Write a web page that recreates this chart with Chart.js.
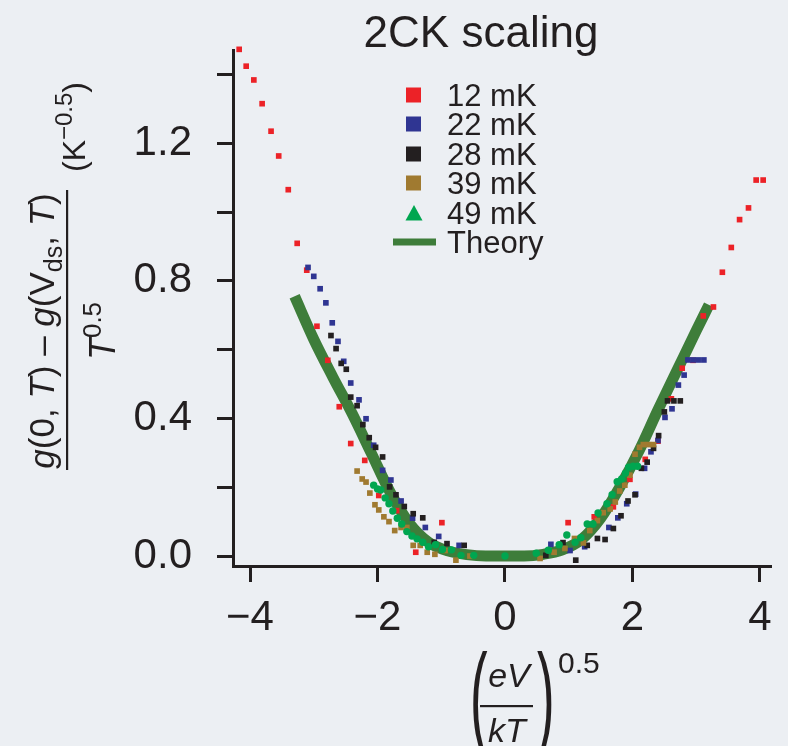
<!DOCTYPE html>
<html>
<head>
<meta charset="utf-8">
<script src="https://cdn.jsdelivr.net/npm/chart.js@4.4.1/dist/chart.umd.min.js"></script>
<style>
  html, body { margin: 0; padding: 0; background: #eceff3; }
  #wrap { width: 788px; height: 746px; }
</style>
</head>
<body>
<div id="wrap"><canvas id="myChart" width="788" height="746"></canvas></div>
<script>
// data: x = (eV/kT)^0.5, y = scaled conductance
var x12 = [-4.17, -4.06, -3.94, -3.81, -3.67, -3.55, -3.40, -3.26, -3.11, -2.95, -2.78, -2.60, -2.42, -2.20, -1.98, -1.70, -1.40, -0.99, 0.99, 1.40, 1.70, 1.96, 2.20, 2.40, 2.61, 2.78, 2.95, 3.11, 3.27, 3.41, 3.55, 3.68, 3.82, 3.94, 4.05];
var y12 = [1.473, 1.424, 1.384, 1.315, 1.235, 1.163, 1.065, 0.909, 0.831, 0.668, 0.569, 0.434, 0.327, 0.278, 0.176, 0.132, 0.011, 0.097, 0.097, 0.114, 0.143, 0.223, 0.281, 0.334, 0.457, 0.546, 0.569, 0.698, 0.724, 0.825, 0.897, 0.978, 1.012, 1.093, 1.093];

var x22 = [-3.09, -3.00, -2.90, -2.81, -2.71, -2.62, -2.53, -2.42, -2.29, -2.18, -2.06, -1.92, -1.79, -1.63, -1.45, -1.25, -1.04, -0.72, 0.72, 1.02, 1.25, 1.63, 1.77, 1.91, 2.05, 2.19, 2.29, 2.40, 2.51, 2.62, 2.72, 2.81, 2.87, 2.95, 3.03, 3.12];
var y22 = [0.839, 0.813, 0.777, 0.736, 0.678, 0.624, 0.566, 0.503, 0.454, 0.399, 0.322, 0.249, 0.221, 0.160, 0.110, 0.083, 0.057, 0.031, 0.034, 0.016, 0.027, 0.083, 0.111, 0.152, 0.180, 0.255, 0.303, 0.336, 0.403, 0.428, 0.497, 0.526, 0.570, 0.570, 0.570, 0.570];

var x28 = [-2.73, -2.65, -2.57, -2.49, -2.42, -2.32, -2.23, -2.13, -2.03, -1.92, -1.81, -1.71, -1.58, -1.44, -1.29, -1.11, -0.91, -0.64, 0.64, 0.91, 1.11, 1.29, 1.45, 1.57, 1.70, 1.82, 1.93, 2.04, 2.14, 2.23, 2.33, 2.41, 2.50, 2.55, 2.65, 2.75];
var y28 = [0.641, 0.603, 0.560, 0.543, 0.462, 0.437, 0.382, 0.344, 0.316, 0.288, 0.201, 0.178, 0.144, 0.123, 0.111, 0.040, 0.036, 0.031, 0.002, 0.039, -0.012, 0.031, 0.051, 0.048, 0.080, 0.117, 0.160, 0.178, 0.255, 0.273, 0.313, 0.350, 0.419, 0.451, 0.451, 0.451];

var x39 = [-2.32, -2.24, -2.18, -2.12, -2.04, -1.98, -1.90, -1.82, -1.73, -1.63, -1.54, -1.44, -1.33, -1.22, -1.10, -0.94, -0.77, -0.55, 0.55, 0.77, 0.94, 1.09, 1.23, 1.33, 1.45, 1.54, 1.65, 1.73, 1.80, 1.88, 1.96, 2.04, 2.11, 2.17, 2.25, 2.33];
var y39 = [0.247, 0.224, 0.215, 0.183, 0.149, 0.134, 0.114, 0.100, 0.074, 0.083, 0.083, 0.031, 0.031, 0.011, 0.005, 0.016, -0.012, 0.000, -0.007, 0.011, 0.022, 0.051, 0.038, 0.074, 0.103, 0.126, 0.137, 0.157, 0.189, 0.206, 0.235, 0.296, 0.316, 0.324, 0.324, 0.324];

var x49 = [-2.06, -2.00, -1.95, -1.88, -1.82, -1.76, -1.69, -1.62, -1.54, -1.46, -1.38, -1.29, -1.20, -1.09, -0.98, -0.84, -0.69, -0.49, 0.00, 0.49, 0.68, 0.85, 0.97, 1.10, 1.19, 1.29, 1.38, 1.46, 1.60, 1.68, 1.76, 1.83, 1.89, 1.94, 2.01, 2.08];
var y49 = [0.206, 0.195, 0.192, 0.169, 0.152, 0.131, 0.110, 0.093, 0.071, 0.058, 0.050, 0.040, 0.027, 0.033, 0.019, 0.018, 0.002, 0.002, 0.000, 0.008, 0.017, 0.033, 0.061, 0.040, 0.053, 0.093, 0.093, 0.125, 0.152, 0.178, 0.216, 0.224, 0.241, 0.258, 0.261, 0.261];

var theoryX = [-3.3, -3.0, -2.7, -2.4, -2.1, -1.8, -1.5, -1.2, -0.9, -0.6, -0.3, 0, 0.3, 0.6, 0.9, 1.2, 1.5, 1.8, 2.1, 2.4, 2.7, 3.0, 3.2];
var theoryY = [0.755, 0.63, 0.52, 0.415, 0.30, 0.185, 0.095, 0.04, 0.015, 0.004, 0.0, 0.0, 0.0, 0.005, 0.018, 0.048, 0.11, 0.20, 0.305, 0.425, 0.54, 0.655, 0.73];

var xTickValues = [-4, -2, 0, 2, 4];
var xTickLabels = ['\u22124', '\u22122', '0', '2', '4'];
var yTickValues = [0, 0.2, 0.4, 0.6, 0.8, 1.0, 1.2, 1.4];
var yTickLabels = ['0.0', '', '0.4', '', '0.8', '', '1.2', ''];

var FONT = '"Liberation Sans", Arial, Helvetica, sans-serif';
var INK = '#231f20';

function pairs(xs, ys) {
  return xs.map(function(x, i) { return { x: x, y: ys[i] }; });
}

function squares(label, xs, ys, color, order) {
  return {
    label: label,
    data: pairs(xs, ys),
    pointStyle: 'rect',
    pointRadius: 4,
    pointBorderWidth: 0,
    backgroundColor: color,
    borderColor: color,
    showLine: false,
    clip: false,
    order: order
  };
}

// titles, axis labels and the legend box
var textPlugin = {
  id: 'texts',
  afterDraw: function(chart) {
    var ctx = chart.ctx;
    ctx.save();
    ctx.fillStyle = INK;
    ctx.textBaseline = 'alphabetic';

    // title
    ctx.font = '44px ' + FONT;
    ctx.textAlign = 'center';
    ctx.fillText('2CK scaling', 481, 47);

    // legend
    ctx.textAlign = 'left';
    ctx.font = '31px ' + FONT;
    var rows = [95, 124, 154, 183, 213, 242];
    var ds = chart.data.datasets;
    var names = ['12 mK', '22 mK', '28 mK', '39 mK', '49 mK', 'Theory'];
    for (var i = 0; i < names.length; i++) {
      var cy = rows[i];
      var col = ds[i].backgroundColor;
      if (i < 4) {
        ctx.fillStyle = col;
        ctx.fillRect(406, cy - 7.5, 15, 15);
      } else if (i === 4) {
        ctx.fillStyle = col;
        ctx.beginPath();
        ctx.moveTo(414, cy - 8);
        ctx.lineTo(422.5, cy + 7.5);
        ctx.lineTo(405.5, cy + 7.5);
        ctx.closePath();
        ctx.fill();
      } else {
        ctx.fillStyle = ds[i].borderColor;
        ctx.fillRect(393, cy - 3.5, 43, 7);
      }
      ctx.fillStyle = INK;
      ctx.fillText(names[i], 447, cy + 10.5);
    }

    // x axis title: (eV/kT)^0.5
    ctx.textAlign = 'center';
    ctx.font = 'italic 34px ' + FONT;
    ctx.fillText('eV', 509, 687);
    ctx.fillText('kT', 507, 742);
    ctx.fillRect(480, 705, 53, 2.2);
    ctx.textAlign = 'left';
    ctx.font = '30px ' + FONT;
    ctx.fillText('0.5', 558, 673);
    ctx.font = '48px ' + FONT;
    ctx.save();
    ctx.translate(470, 734);
    ctx.scale(1.1, 2.4);
    ctx.fillText('(', 0, 0);
    ctx.restore();
    ctx.save();
    ctx.translate(537, 734);
    ctx.scale(1.1, 2.4);
    ctx.fillText(')', 0, 0);
    ctx.restore();

    // y axis title, rotated
    ctx.save();
    ctx.rotate(-Math.PI / 2);
    drawRun(ctx, [
      { t: 'g', f: 'italic 35px ' },
      { t: '(0, ', f: '35px ' },
      { t: 'T', f: 'italic 35px ' },
      { t: ') \u2013 ', f: '35px ' },
      { t: 'g', f: 'italic 35px ' },
      { t: '(V', f: '35px ' },
      { t: 'ds', f: '25px ', dv: 8 },
      { t: ', ', f: '35px ' },
      { t: 'T', f: 'italic 35px ' },
      { t: ')', f: '35px ' }
    ], -331, 54);
    drawRun(ctx, [
      { t: 'T', f: 'italic 36px ' },
      { t: '0.5', f: '26px ', dv: -14 }
    ], -331, 115);
    drawRun(ctx, [
      { t: '(K', f: '32px ' },
      { t: '\u22120.5', f: '24px ', dv: -13 },
      { t: ')', f: '32px ' }
    ], -127, 85);
    ctx.restore();
    ctx.fillRect(66, 190, 2.2, 280);

    ctx.restore();
  }
};

// draws pieces of text one after another, centred on u
function drawRun(ctx, parts, u, v) {
  var total = 0;
  parts.forEach(function(p) {
    ctx.font = p.f + FONT;
    p.w = ctx.measureText(p.t).width;
    total += p.w;
  });
  var pos = u - total / 2;
  ctx.textAlign = 'left';
  parts.forEach(function(p) {
    ctx.font = p.f + FONT;
    ctx.fillText(p.t, pos, v + (p.dv || 0));
    pos += p.w;
  });
}

var ctx = document.getElementById('myChart').getContext('2d');
var chart = new Chart(ctx, {
  type: 'scatter',
  data: {
    datasets: [
      squares('12 mK', x12, y12, '#ec2227', 5),
      squares('22 mK', x22, y22, '#2f3592', 4),
      squares('28 mK', x28, y28, '#231f20', 3),
      squares('39 mK', x39, y39, '#a07a30', 2),
      {
        label: '49 mK',
        data: pairs(x49, y49),
        pointStyle: 'circle',
        pointRadius: 3.7,
        pointBorderWidth: 0,
        backgroundColor: '#00a650',
        borderColor: '#00a650',
        showLine: false,
        clip: false,
        order: 1
      },
      {
        label: 'Theory',
        data: pairs(theoryX, theoryY),
        showLine: true,
        pointRadius: 0,
        borderWidth: 11,
        borderColor: '#3e7d3a',
        backgroundColor: '#3e7d3a',
        borderCapStyle: 'butt',
        cubicInterpolationMode: 'monotone',
        clip: false,
        order: 6
      }
    ]
  },
  options: {
    responsive: false,
    animation: false,
    layout: { padding: { top: 45, right: 17, left: 0, bottom: 0 } },
    plugins: {
      legend: { display: false },
      tooltip: { enabled: false },
      title: { display: false }
    },
    scales: {
      x: {
        type: 'linear',
        min: -4.267,
        max: 4.173,
        afterBuildTicks: function(scale) {
          scale.ticks = xTickValues.map(function(v) { return { value: v }; });
        },
        afterFit: function(scale) { scale.height = 180; },
        ticks: {
          autoSkip: false,
          maxRotation: 0,
          padding: 11,
          color: INK,
          font: { family: FONT, size: 42 },
          callback: function(v) {
            var i = xTickValues.indexOf(v);
            return i >= 0 ? xTickLabels[i] : '';
          }
        },
        grid: {
          drawOnChartArea: false,
          drawTicks: true,
          tickLength: 16,
          tickWidth: 3,
          tickColor: INK
        },
        border: { display: true, color: INK, width: 3 }
      },
      y: {
        type: 'linear',
        min: -0.029,
        max: 1.4705,
        afterBuildTicks: function(scale) {
          scale.ticks = yTickValues.map(function(v) { return { value: v }; });
        },
        afterFit: function(scale) { scale.width = 233; },
        ticks: {
          autoSkip: false,
          padding: 25,
          color: INK,
          font: { family: FONT, size: 42 },
          callback: function(v) {
            for (var i = 0; i < yTickValues.length; i++) {
              if (Math.abs(yTickValues[i] - v) < 1e-6) return yTickLabels[i];
            }
            return '';
          }
        },
        grid: {
          drawOnChartArea: false,
          drawTicks: true,
          tickLength: 16,
          tickWidth: 3,
          tickColor: INK
        },
        border: { display: true, color: INK, width: 3 }
      }
    }
  },
  plugins: [textPlugin]
});
</script>
</body>
</html>
